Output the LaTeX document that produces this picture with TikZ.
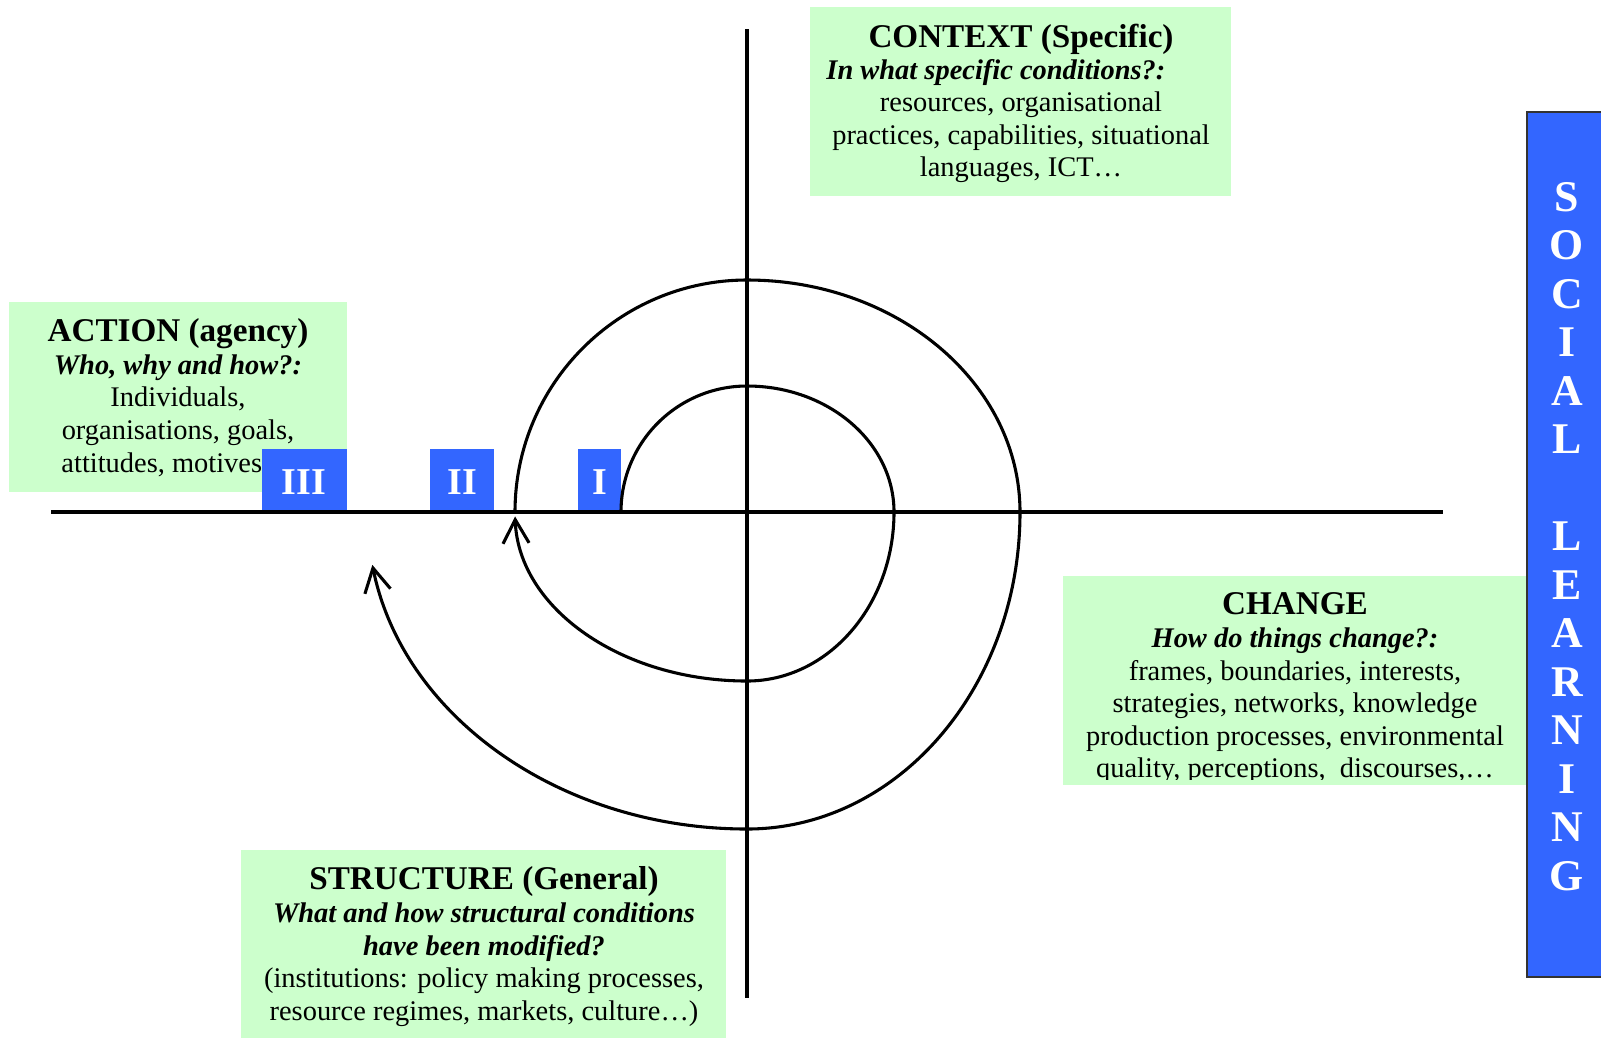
\documentclass[tikz,border=0pt]{standalone}
\usepackage{fontspec}
\setmainfont{Liberation Serif}
\usetikzlibrary{arrows.meta,fit}
\definecolor{notegreen}{HTML}{CCFFCC}
\definecolor{stageblue}{HTML}{3366FF}

\tikzset{
  notebox/.style={fill=notegreen, draw=none, inner sep=0pt, outer sep=0pt},
  stagebox/.style={fill=stageblue, draw=none, inner sep=0pt, outer sep=0pt},
  numeral/.style={anchor=base, inner sep=0pt, text=white, font=\fontsize{16}{18}\selectfont\bfseries},
  axisline/.style={line width=1.3pt},
  spiral/.style={line width=1.3pt, -{Straight Barb[length=10pt,width=11pt]}},
  ttl/.style={anchor=base, inner sep=0pt, font=\fontsize{14}{16}\selectfont\bfseries},
  qst/.style={anchor=base, inner sep=0pt, font=\fontsize{12}{14}\selectfont\bfseries\itshape},
  txt/.style={anchor=base, inner sep=0pt, font=\fontsize{12}{14}\selectfont},
  vletter/.style={anchor=base, inner sep=0pt, text=white, font=\fontsize{18.5}{20}\selectfont\bfseries},
}

\begin{document}
\begin{tikzpicture}[x=0.422pt, y=-0.422pt]
\useasboundingbox (0,0) rectangle (1601,1037);

% ---- text boxes ----
\node[notebox, fit={(810,7) (1231,196)}] (context) {};
\node[notebox, fit={(9,302) (347,492)}] (action) {};
\node[notebox, fit={(1063,576) (1527,785)}] (change) {};
\node[notebox, fit={(241,850) (726,1040)}] (structure) {};

% ---- stage markers on the axis ----
\node[stagebox, fit={(262,449) (347,512)}] (III) {};
\node[stagebox, fit={(430,449) (494,512)}] (II) {};
\node[stagebox, fit={(578,449) (621,512)}] (I) {};
\node[numeral] (III-l) at (304,494) {III};
\node[numeral] (II-l) at (462,494) {II};
\node[numeral] (I-l) at (600,494) {I};

% ---- social learning bar ----
\node[fill=stageblue, draw=black!80, line width=1pt, inner sep=0pt, outer sep=0pt,
      fit={(1527,112) (1615,977)}] (social) {};
\foreach \ch [count=\k from 0] in {S,O,C,I,A,L}
  \node[vletter] (soc-\k) at (1567,{211+48.5*\k}) {\ch};
\foreach \ch [count=\k from 7] in {L,E,A,R,N,I,N,G}
  \node[vletter] (lrn-\k) at (1567,{211+48.5*\k}) {\ch};

% ---- axes ----
\coordinate (xl) at (51,512);
\coordinate (xr) at (1443,512);
\coordinate (yt) at (747,29);
\coordinate (yb) at (747,998);
\draw[axisline] (xl) -- (xr);
\draw[axisline] (yt) -- (yb);

% ---- spiral ----
\coordinate (turn) at (515,512);
\draw[spiral] (I.south east)
  arc[start angle=180, end angle=270, radius=126]
  arc[start angle=270, end angle=360, x radius=147, y radius=126]
  arc[start angle=0, end angle=90, x radius=147, y radius=169]
  arc[start angle=90, end angle=178.5, x radius=232, y radius=169];
\draw[spiral] (turn)
  arc[start angle=180, end angle=270, radius=232]
  arc[start angle=270, end angle=360, x radius=273, y radius=232]
  arc[start angle=0, end angle=90, x radius=273, y radius=317]
  arc[start angle=90, end angle=170.4, x radius=380, y radius=317];

% ---- CONTEXT ----
\node[ttl] (ctx-t) at (1021,47) {CONTEXT (Specific)};
\node[qst, anchor=base west] (ctx-q) at (826,79) {In what specific conditions?:};
\node[txt] (ctx-1) at (1021,111) {resources, organisational};
\node[txt] (ctx-2) at (1021,144) {practices, capabilities, situational};
\node[txt] (ctx-3) at (1021,176) {languages, ICT…};

% ---- ACTION ----
\node[ttl] (act-t) at (178,341) {ACTION (agency)};
\node[qst] (act-q) at (178,374) {Who, why and how?:};
\node[txt] (act-1) at (178,406) {Individuals,};
\node[txt] (act-2) at (178,439) {organisations, goals,};
\node[txt, anchor=base west] (act-3) at (61,472) {attitudes, motives};

% ---- CHANGE (last line runs past the box and is cut at its edge) ----
\begin{scope}
\clip (1063,576) rectangle (1527,779);
\node[ttl] (chg-t) at (1295,614) {CHANGE};
\node[qst] (chg-q) at (1295,647) {How do things change?:};
\node[txt] (chg-1) at (1295,680) {frames, boundaries, interests,};
\node[txt] (chg-2) at (1295,712) {strategies, networks, knowledge};
\node[txt] (chg-3) at (1295,745) {production processes, environmental};
\node[txt] (chg-4) at (1295,777) {quality, perceptions,\ \ discourses,…};
\end{scope}

% ---- STRUCTURE ----
\node[ttl] (str-t) at (484,889) {STRUCTURE (General)};
\node[qst] (str-q1) at (484,922) {What and how structural conditions};
\node[qst] (str-q2) at (484,955) {have been modified?};
\node[txt] (str-1) at (484,987) {(institutions: policy making processes,};
\node[txt] (str-2) at (484,1020) {resource regimes, markets, culture…)};
\end{tikzpicture}
\end{document}
